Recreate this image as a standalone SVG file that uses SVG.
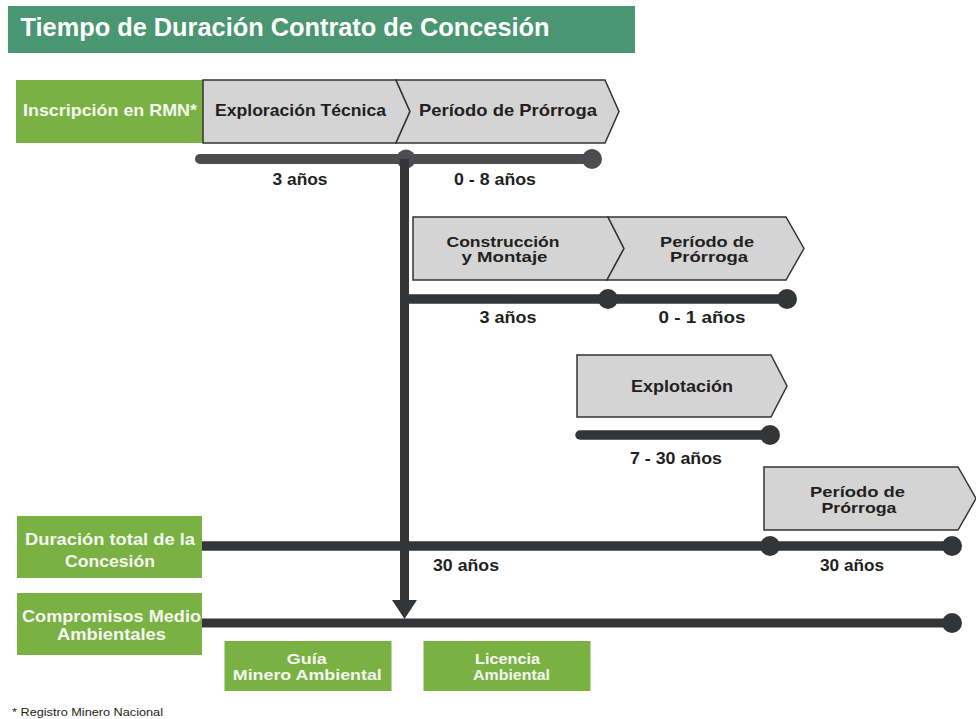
<svg xmlns="http://www.w3.org/2000/svg" width="976" height="719" viewBox="0 0 976 719">
  <style>
    .txt { font-family: "Liberation Sans", Arial, sans-serif; font-weight: bold; }
    .title { font-size: 25px; fill: #ffffff; }
    .lbl { font-size: 17px; fill: #231f20; text-anchor: middle; }
    .wlbl { font-size: 17px; fill: #f6f6f0; text-anchor: middle; }
    .ml { font-size: 15px; }
    .dur { font-size: 17px; fill: #231f20; text-anchor: middle; }
    .green { fill: #79b243; }
    .chev { fill: #d4d4d4; stroke: #333333; stroke-width: 1.5; stroke-linejoin: miter; }
    .line { stroke: #333537; stroke-width: 9.5; stroke-linecap: round; fill: none; }
    .line1 { stroke: #4d4d4f; stroke-width: 10; stroke-linecap: round; fill: none; }
    .dot { fill: #333537; }
    .dot1 { fill: #4d4d4f; }
    .foot { font-family: "Liberation Sans", Arial, sans-serif; font-size: 11px; fill: #231f20; }
  </style>
  <rect width="976" height="719" fill="#ffffff"/>

  <g id="title">
    <rect x="8" y="6" width="627" height="47" fill="#4a9672"/>
    <text class="txt title" x="20.5" y="36" textLength="529" lengthAdjust="spacingAndGlyphs">Tiempo de Duración Contrato de Concesión</text>
  </g>

  <g id="connectors">
    <!-- top timeline -->
    <line class="line1" x1="200" y1="159" x2="592" y2="159"/>
    <circle class="dot1" cx="406" cy="159" r="9.5"/>
    <circle class="dot1" cx="592" cy="159" r="10"/>
    <!-- vertical arrow -->
    <line x1="404.5" y1="159" x2="404.5" y2="602" stroke="#333537" stroke-width="9"/>
    <polygon points="392,600 417,600 404.5,619" fill="#333537"/>
    <!-- second timeline -->
    <line class="line" x1="405" y1="299" x2="787" y2="299"/>
    <circle class="dot" cx="608" cy="299" r="10"/>
    <circle class="dot" cx="787" cy="299" r="10"/>
    <!-- explotación timeline -->
    <line class="line" x1="580" y1="435" x2="770" y2="435"/>
    <circle class="dot" cx="770" cy="435" r="10"/>
    <!-- total duration -->
    <line x1="202" y1="546" x2="952" y2="546" stroke="#333537" stroke-width="9.5"/>
    <circle class="dot" cx="770" cy="546" r="10"/>
    <circle class="dot" cx="952" cy="546" r="10"/>
    <!-- compromisos -->
    <line x1="202" y1="623" x2="952" y2="623" stroke="#333537" stroke-width="9"/>
    <circle class="dot" cx="952" cy="623" r="10"/>
  </g>

  <g id="durations">
    <text class="txt dur" x="300" y="184.5" textLength="55" lengthAdjust="spacingAndGlyphs">3 años</text>
    <text class="txt dur" x="495" y="184.5" textLength="82" lengthAdjust="spacingAndGlyphs">0 - 8 años</text>
    <text class="txt dur" x="508" y="323" textLength="57" lengthAdjust="spacingAndGlyphs">3 años</text>
    <text class="txt dur" x="702" y="323" textLength="87" lengthAdjust="spacingAndGlyphs">0 - 1 años</text>
    <text class="txt dur" x="676" y="463.5" textLength="92" lengthAdjust="spacingAndGlyphs">7 - 30 años</text>
    <text class="txt dur" x="466" y="570.5" textLength="66" lengthAdjust="spacingAndGlyphs">30 años</text>
    <text class="txt dur" x="852" y="570.5" textLength="64" lengthAdjust="spacingAndGlyphs">30 años</text>
  </g>

  <g id="inscripcion">
    <rect class="green" x="16" y="80" width="187" height="63"/>
    <text class="txt wlbl" x="110" y="116" textLength="174" lengthAdjust="spacingAndGlyphs">Inscripción en RMN*</text>
  </g>

  <g id="exploracion">
    <polygon class="chev" points="203,80 396,80 410,111.5 396,143 203,143"/>
    <text class="txt lbl" x="300.5" y="115.5" textLength="171" lengthAdjust="spacingAndGlyphs">Exploración Técnica</text>
  </g>

  <g id="prorroga1">
    <polygon class="chev" points="396,80 605,80 619,111.5 605,143 396,143 410,111.5"/>
    <text class="txt lbl" x="508" y="115.5" textLength="178" lengthAdjust="spacingAndGlyphs">Período de Prórroga</text>
  </g>

  <g id="construccion">
    <polygon class="chev" points="413,217 608,217 624,248.5 607,280 413,280"/>
    <text class="txt lbl ml" x="503" y="246.5" textLength="113" lengthAdjust="spacingAndGlyphs">Construcción</text>
    <text class="txt lbl ml" x="504.5" y="262" textLength="86" lengthAdjust="spacingAndGlyphs">y Montaje</text>
  </g>

  <g id="prorroga2">
    <polygon class="chev" points="608,217 786,217 804,248.5 786,280 607,280 624,248.5"/>
    <text class="txt lbl ml" x="707" y="246.5" textLength="94" lengthAdjust="spacingAndGlyphs">Período de</text>
    <text class="txt lbl ml" x="709" y="262" textLength="78" lengthAdjust="spacingAndGlyphs">Prórroga</text>
  </g>

  <g id="explotacion">
    <polygon class="chev" points="577,355 771,355 787,386 771,417 577,417"/>
    <text class="txt lbl" x="682" y="392" textLength="102" lengthAdjust="spacingAndGlyphs">Explotación</text>
  </g>

  <g id="prorroga3">
    <polygon class="chev" points="764,467 958,467 976,498.5 958,530 764,530"/>
    <text class="txt lbl ml" x="857.5" y="497" textLength="95" lengthAdjust="spacingAndGlyphs">Período de</text>
    <text class="txt lbl ml" x="859" y="513" textLength="75" lengthAdjust="spacingAndGlyphs">Prórroga</text>
  </g>

  <g id="duracion">
    <rect class="green" x="17" y="516" width="185" height="62"/>
    <text class="txt wlbl" x="110" y="545" textLength="170" lengthAdjust="spacingAndGlyphs">Duración total de la</text>
    <text class="txt wlbl" x="110" y="566.5" textLength="90" lengthAdjust="spacingAndGlyphs">Concesión</text>
  </g>

  <g id="compromisos">
    <rect class="green" x="17" y="593" width="185" height="62"/>
    <text class="txt wlbl" x="111.5" y="621.5" textLength="179" lengthAdjust="spacingAndGlyphs">Compromisos Medio</text>
    <text class="txt wlbl" x="111.5" y="640" textLength="109" lengthAdjust="spacingAndGlyphs">Ambientales</text>
  </g>

  <g id="guia">
    <rect class="green" x="224.5" y="641" width="167" height="50"/>
    <text class="txt wlbl ml" x="306.7" y="663.5" textLength="40" lengthAdjust="spacingAndGlyphs">Guía</text>
    <text class="txt wlbl ml" x="307.3" y="679.5" textLength="149" lengthAdjust="spacingAndGlyphs">Minero Ambiental</text>
  </g>

  <g id="licencia">
    <rect class="green" x="423.5" y="641" width="167" height="50"/>
    <text class="txt wlbl ml" x="507.5" y="663.5" textLength="65" lengthAdjust="spacingAndGlyphs">Licencia</text>
    <text class="txt wlbl ml" x="511.5" y="679.5" textLength="77" lengthAdjust="spacingAndGlyphs">Ambiental</text>
  </g>

  <g id="footnote">
    <text class="foot" x="12" y="716" textLength="151" lengthAdjust="spacingAndGlyphs">* Registro Minero Nacional</text>
  </g>
</svg>
